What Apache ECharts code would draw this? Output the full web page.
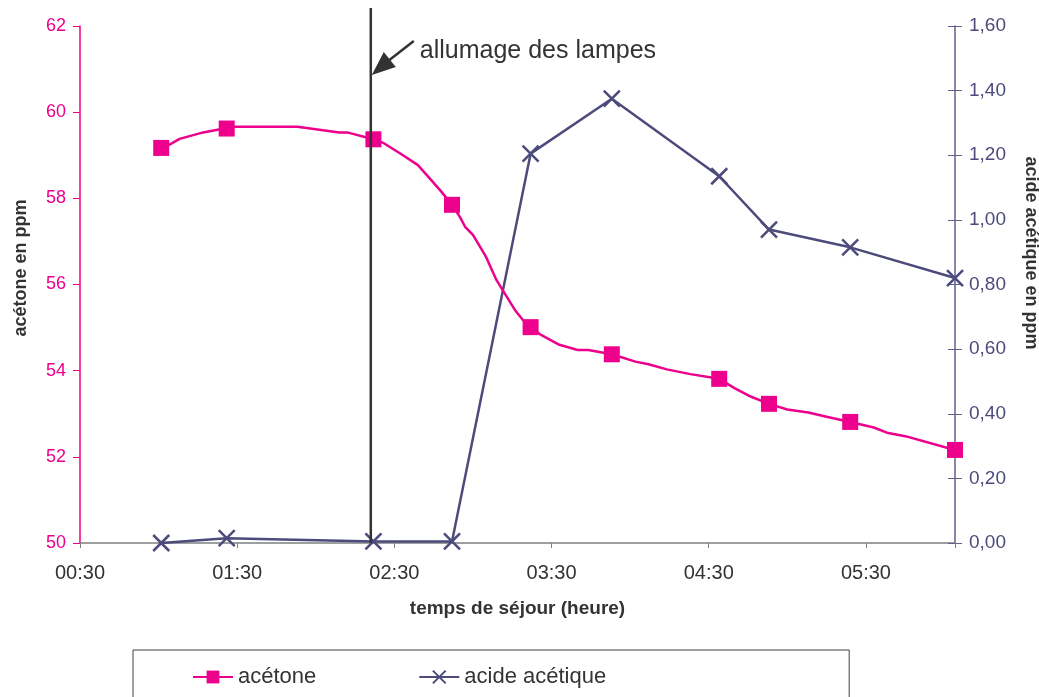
<!DOCTYPE html>
<html>
<head>
<meta charset="utf-8">
<title>acétone / acide acétique</title>
<script src="https://cdn.jsdelivr.net/npm/echarts@6/dist/echarts.min.js"></script>
<style>
html, body { margin: 0; padding: 0; background: #fff; }
#chart { width: 1039px; height: 697px; }
</style>
</head>
<body>
<div id="chart"></div>
<script>
// sample times in minutes after midnight (axis starts at 00:30)
var sampleMinutes = [61, 86, 142, 172, 202, 233, 274, 293, 324, 364];
var acetone = [59.17, 59.62, 59.37, 57.85, 55.01, 54.38, 53.81, 53.23, 52.81, 52.16];
var aceticAcid = [0.00, 0.015, 0.005, 0.005, 1.205, 1.375, 1.135, 0.97, 0.915, 0.82];

// continuous acetone trace between the samples (no marker)
var acetoneTraceMinutes = [64, 68, 77, 83, 89, 113, 129, 132, 146, 153, 159, 165, 168, 175, 177, 180,
    185, 189, 196, 199, 206, 213, 220, 224, 242, 247, 254, 263, 280, 286, 300, 308, 315, 333, 338, 345];
var acetoneTraceValues = [59.24, 59.38, 59.53, 59.60, 59.66, 59.66, 59.53, 59.53, 59.28, 59.01, 58.77, 58.36,
    58.15, 57.57, 57.34, 57.15, 56.64, 56.10, 55.41, 55.18, 54.83, 54.60, 54.48, 54.48, 54.21, 54.15, 54.03,
    53.92, 53.59, 53.40, 53.10, 53.03, 52.93, 52.68, 52.56, 52.48];

var lampOnMinute = 141;
var axisStart = 30;   // 00:30
var axisEnd = 364;

var pink = '#ec008c';
var violet = '#4d4a7c';
var font = '"Liberation Sans", Arial, sans-serif';

function pad(n){ return (n < 10 ? '0' : '') + n; }

var acetoneData = [];
sampleMinutes.forEach(function(m, i){
    acetoneData.push({value: [m - axisStart, acetone[i]]});
});
acetoneTraceMinutes.forEach(function(m, i){
    acetoneData.push({value: [m - axisStart, acetoneTraceValues[i]], symbol: 'none'});
});
acetoneData.sort(function(a, b){ return a.value[0] - b.value[0]; });

var acidData = sampleMinutes.map(function(m, i){ return [m - axisStart, aceticAcid[i]]; });

var chart = echarts.init(document.getElementById('chart'));

chart.setOption({
    animation: false,
    backgroundColor: '#fff',
    grid: {left: 80, right: 84, top: 26, bottom: 154},
    legend: {
        left: 133,
        top: 650,
        padding: [16, 243, 40, 59],
        itemGap: 102,
        itemWidth: 40,
        itemHeight: 16,
        borderColor: '#404040',
        borderWidth: 1,
        textStyle: {fontSize: 22, fontFamily: font, color: '#333'},
        data: ['acétone', 'acide acétique']
    },
    xAxis: {
        type: 'value',
        min: 0,
        max: axisEnd - axisStart,
        interval: 60,
        name: 'temps de séjour (heure)',
        nameLocation: 'middle',
        nameGap: 56,
        nameTextStyle: {fontSize: 19, fontWeight: 'bold', color: '#333', fontFamily: font},
        axisLine: {lineStyle: {color: '#808080', width: 1.5}},
        axisTick: {length: 5, lineStyle: {color: '#808080'}},
        splitLine: {show: false},
        axisLabel: {
            margin: 20,
            fontSize: 20,
            color: '#333',
            fontFamily: font,
            formatter: function(v){
                if (v % 60 !== 0) return '';
                var m = v + axisStart;
                return pad(Math.floor(m / 60)) + ':' + pad(m % 60);
            }
        }
    },
    yAxis: [{
        type: 'value',
        position: 'left',
        min: 50,
        max: 62,
        interval: 2,
        axisLine: {show: true, lineStyle: {color: pink, width: 1.5}},
        axisTick: {show: true, length: 7, lineStyle: {color: pink}},
        splitLine: {show: false},
        axisLabel: {margin: 14, fontSize: 18, color: pink, fontFamily: font}
    }, {
        type: 'value',
        position: 'right',
        min: 0,
        max: 1.6,
        interval: 0.2,
        axisLine: {show: true, lineStyle: {color: '#625e8e', width: 1.5}},
        axisTick: {show: true, length: 7, lineStyle: {color: '#625e8e'}},
        splitLine: {show: false},
        axisLabel: {
            margin: 14, fontSize: 19, color: violet, fontFamily: font,
            formatter: function(v){ return v.toFixed(2).replace('.', ','); }
        }
    }, {
        // inner half of the crossing ticks on the right axis
        type: 'value',
        position: 'right',
        min: 0,
        max: 1.6,
        interval: 0.2,
        axisLine: {show: false},
        axisTick: {show: true, inside: true, length: 7, lineStyle: {color: '#625e8e'}},
        axisLabel: {show: false},
        splitLine: {show: false}
    }],
    series: [{
        name: 'acide acétique',
        type: 'line',
        yAxisIndex: 1,
        data: acidData,
        symbol: 'path://M0,0L10,10M10,0L0,10',
        symbolSize: 16,
        color: violet,
        itemStyle: {color: violet, borderColor: violet, borderWidth: 2.5},
        lineStyle: {color: violet, width: 2.5}
    }, {
        name: 'acétone',
        type: 'line',
        yAxisIndex: 0,
        data: acetoneData,
        symbol: 'rect',
        symbolSize: 16,
        color: pink,
        itemStyle: {color: pink},
        lineStyle: {color: pink, width: 2.5},
        z: 3
    }]
});

var lampX = chart.convertToPixel({xAxisIndex: 0}, lampOnMinute - axisStart);
var baseY = chart.convertToPixel({yAxisIndex: 0}, 50);

chart.setOption({
    graphic: [{
        type: 'line',
        shape: {x1: lampX, y1: 8, x2: lampX, y2: baseY},
        style: {stroke: '#333', lineWidth: 2.5},
        z: 10
    }, {
        type: 'line',
        shape: {x1: lampX + 43, y1: 41, x2: lampX + 16, y2: 62},
        style: {stroke: '#333', lineWidth: 2.5},
        z: 10
    }, {
        type: 'polygon',
        shape: {points: [[lampX + 1, 75], [lampX + 13, 52], [lampX + 25, 67]]},
        style: {fill: '#333'},
        z: 10
    }, {
        type: 'text',
        x: lampX + 49,
        y: 51,
        style: {text: 'allumage des lampes', font: '25px ' + font, fill: '#333', verticalAlign: 'middle'},
        z: 10
    }, {
        type: 'text',
        x: 21,
        y: 268,
        rotation: Math.PI / 2,
        style: {text: 'acétone en ppm', font: 'bold 18px ' + font, fill: '#333', align: 'center', verticalAlign: 'middle'}
    }, {
        type: 'text',
        x: 1031,
        y: 253,
        rotation: -Math.PI / 2,
        style: {text: 'acide acétique en ppm', font: 'bold 18px ' + font, fill: '#333', align: 'center', verticalAlign: 'middle'}
    }]
});
</script>
</body>
</html>
